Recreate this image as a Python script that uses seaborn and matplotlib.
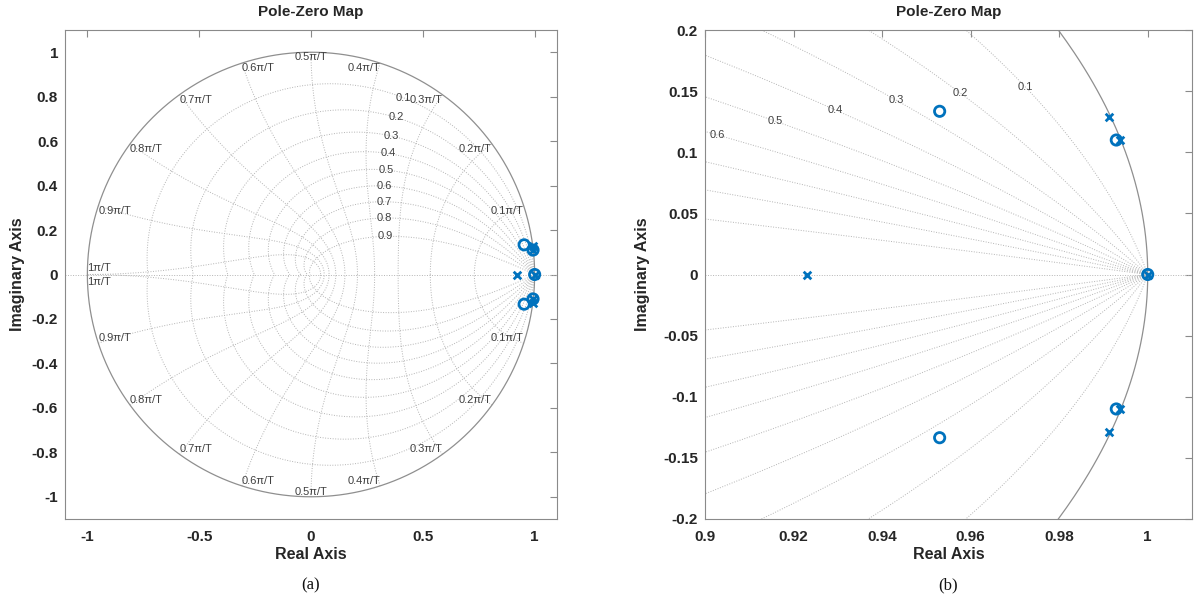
import numpy as np
import matplotlib
matplotlib.use("Agg")
import matplotlib.pyplot as plt
import seaborn as sns

# ---------------- data ----------------
zero_re = [0.953, 0.953, 0.9929, 0.9929, 1.0]
zero_im = [0.1335, -0.1335, 0.110, -0.110, 0.0]
pole_re = [0.923, 0.9913, 0.9913, 0.9938, 0.9938, 1.0]
pole_im = [0.0, 0.1286, -0.1286, 0.110, -0.110, 0.0]

zeta_levels = [0.1, 0.2, 0.3, 0.4, 0.5, 0.6, 0.7, 0.8, 0.9]
wn_levels = [0.1, 0.2, 0.3, 0.4, 0.5, 0.6, 0.7, 0.8, 0.9, 1.0]   # x pi/T
wn_labels = ["0.1\u03c0/T", "0.2\u03c0/T", "0.3\u03c0/T", "0.4\u03c0/T", "0.5\u03c0/T",
             "0.6\u03c0/T", "0.7\u03c0/T", "0.8\u03c0/T", "0.9\u03c0/T", "1\u03c0/T"]

left_xticks = [-1, -0.5, 0, 0.5, 1]
left_xlabels = ["-1", "-0.5", "0", "0.5", "1"]
left_yticks = [-1, -0.8, -0.6, -0.4, -0.2, 0, 0.2, 0.4, 0.6, 0.8, 1]
left_ylabels = ["-1", "-0.8", "-0.6", "-0.4", "-0.2", "0", "0.2", "0.4", "0.6", "0.8", "1"]
right_xticks = [0.9, 0.92, 0.94, 0.96, 0.98, 1.0]
right_xlabels = ["0.9", "0.92", "0.94", "0.96", "0.98", "1"]
right_yticks = [-0.2, -0.15, -0.1, -0.05, 0, 0.05, 0.1, 0.15, 0.2]
right_ylabels = ["-0.2", "-0.15", "-0.1", "-0.05", "0", "0.05", "0.1", "0.15", "0.2"]

# ---------------- style ----------------
sns.set_theme(style="white")
plt.rcParams["font.family"] = ["Liberation Sans", "DejaVu Sans"]
plt.rcParams["axes.unicode_minus"] = False

BLUE = "#0072BD"
GRID = "#b4b4b4"
CIRC = "#8f8f8f"
LBL = "#404040"
SPINE = "#8a8a8a"
TXT = "#262626"

fig = plt.figure(figsize=(11.94, 6.05), dpi=100)
W, H = 1194, 605
axL = fig.add_axes([65 / W, (H - 519) / H, 492 / W, 489 / H])
axR = fig.add_axes([705 / W, (H - 519) / H, 487 / W, 489 / H])


def zeta_curve(z, n=4000):
    wt = np.linspace(0, np.pi / np.sqrt(1 - z ** 2), n)
    return np.exp(wt * (-z + 1j * np.sqrt(1 - z ** 2)))


def wn_curve(w, n=400):
    zz = np.linspace(0, 1, n)
    return np.exp(w * (-zz + 1j * np.sqrt(1 - zz ** 2)))


def draw_grid(ax, xlim, ylim, zeta_lab_w, show_wn_labels):
    dot = dict(color=GRID, lw=0.7, ls=(0, (1, 1.6)), zorder=1)
    ax.axhline(0, **dot)
    for z in zeta_levels:
        c = zeta_curve(z)
        ax.plot(c.real, c.imag, **dot)
        ax.plot(c.real, -c.imag, **dot)
        p = np.exp(zeta_lab_w * (-z + 1j * np.sqrt(1 - z ** 2)))
        if xlim[0] < p.real < xlim[1] and ylim[0] < p.imag < ylim[1]:
            ax.text(p.real, p.imag, f"{z:g}", fontsize=8, color=LBL,
                    ha="center", va="center", zorder=2)
    for w in wn_levels:
        c = wn_curve(w * np.pi)
        ax.plot(c.real, c.imag, **dot)
        ax.plot(c.real, -c.imag, **dot)
    th = np.linspace(0, 2 * np.pi, 2000)
    ax.plot(np.cos(th), np.sin(th), color=CIRC, lw=0.9, zorder=1.5)
    if show_wn_labels:
        for w, lab in zip(wn_levels, wn_labels):
            a = w * np.pi
            x, y = np.cos(a), np.sin(a)
            ha = "right" if w < 0.5 else ("center" if w == 0.5 else "left")
            if w == 1.0:
                ax.text(x, 0.005, lab, fontsize=8, color=LBL, ha="left", va="bottom")
                ax.text(x, -0.012, lab, fontsize=8, color=LBL, ha="left", va="top")
            else:
                ax.text(x, y, lab, fontsize=8, color=LBL, ha=ha, va="top")
                ax.text(x, -y, lab, fontsize=8, color=LBL, ha=ha, va="bottom")


def style_axes(ax, xlim, ylim, xt, xl, yt, yl):
    ax.set_xlim(*xlim)
    ax.set_ylim(*ylim)
    ax.set_xticks(xt)
    ax.set_xticklabels(xl, fontweight="bold", color=TXT)
    ax.set_yticks(yt)
    ax.set_yticklabels(yl, fontweight="bold", color=TXT)
    ax.tick_params(axis="both", direction="in", length=5, width=0.8, color=SPINE,
                   top=True, right=True, labelsize=11)
    ax.tick_params(axis="x", pad=8)
    ax.tick_params(axis="y", pad=5)
    for s in ax.spines.values():
        s.set_visible(True)
        s.set_color(SPINE)
        s.set_linewidth(0.8)
    ax.set_title("Pole-Zero Map", fontsize=11, fontweight="bold", color=TXT, pad=10)
    ax.set_xlabel("Real Axis", fontsize=11.5, fontweight="bold", color=TXT)
    ax.set_ylabel("Imaginary Axis", fontsize=11.5, fontweight="bold", color=TXT)


def draw_pz(ax):
    sns.scatterplot(x=zero_re, y=zero_im, ax=ax, marker="o", s=55,
                    facecolor="none", edgecolor=BLUE, color=BLUE, linewidth=2.0,
                    zorder=5, legend=False)
    sns.scatterplot(x=pole_re, y=pole_im, ax=ax, marker="x", s=30,
                    color=BLUE, linewidth=2.0, zorder=6, legend=False)


# left panel
xlimL, ylimL = (-1.1, 1.1), (-1.1, 1.1)
draw_grid(axL, xlimL, ylimL, 0.35 * np.pi, True)
draw_pz(axL)
style_axes(axL, xlimL, ylimL, left_xticks, left_xlabels, left_yticks, left_ylabels)

# right panel
xlimR, ylimR = (0.9, 1.01), (-0.2, 0.2)
draw_grid(axR, xlimR, ylimR, 0.05 * np.pi, False)
draw_pz(axR)
style_axes(axR, xlimR, ylimR, right_xticks, right_xlabels, right_yticks, right_ylabels)

axL.xaxis.set_label_coords(0.5, -0.058)
axR.xaxis.set_label_coords(0.5, -0.058)
axL.yaxis.set_label_coords(-0.082, 0.5)
axR.yaxis.set_label_coords(-0.112, 0.5)

fig.text(311 / W, 1 - 585 / H, "(a)", fontsize=12, family="Liberation Serif",
         ha="center", va="center", color="#111111")
fig.text(948 / W, 1 - 585 / H, "(b)", fontsize=12, family="Liberation Serif",
         ha="center", va="center", color="#111111")

fig.savefig("out.png", dpi=100)
